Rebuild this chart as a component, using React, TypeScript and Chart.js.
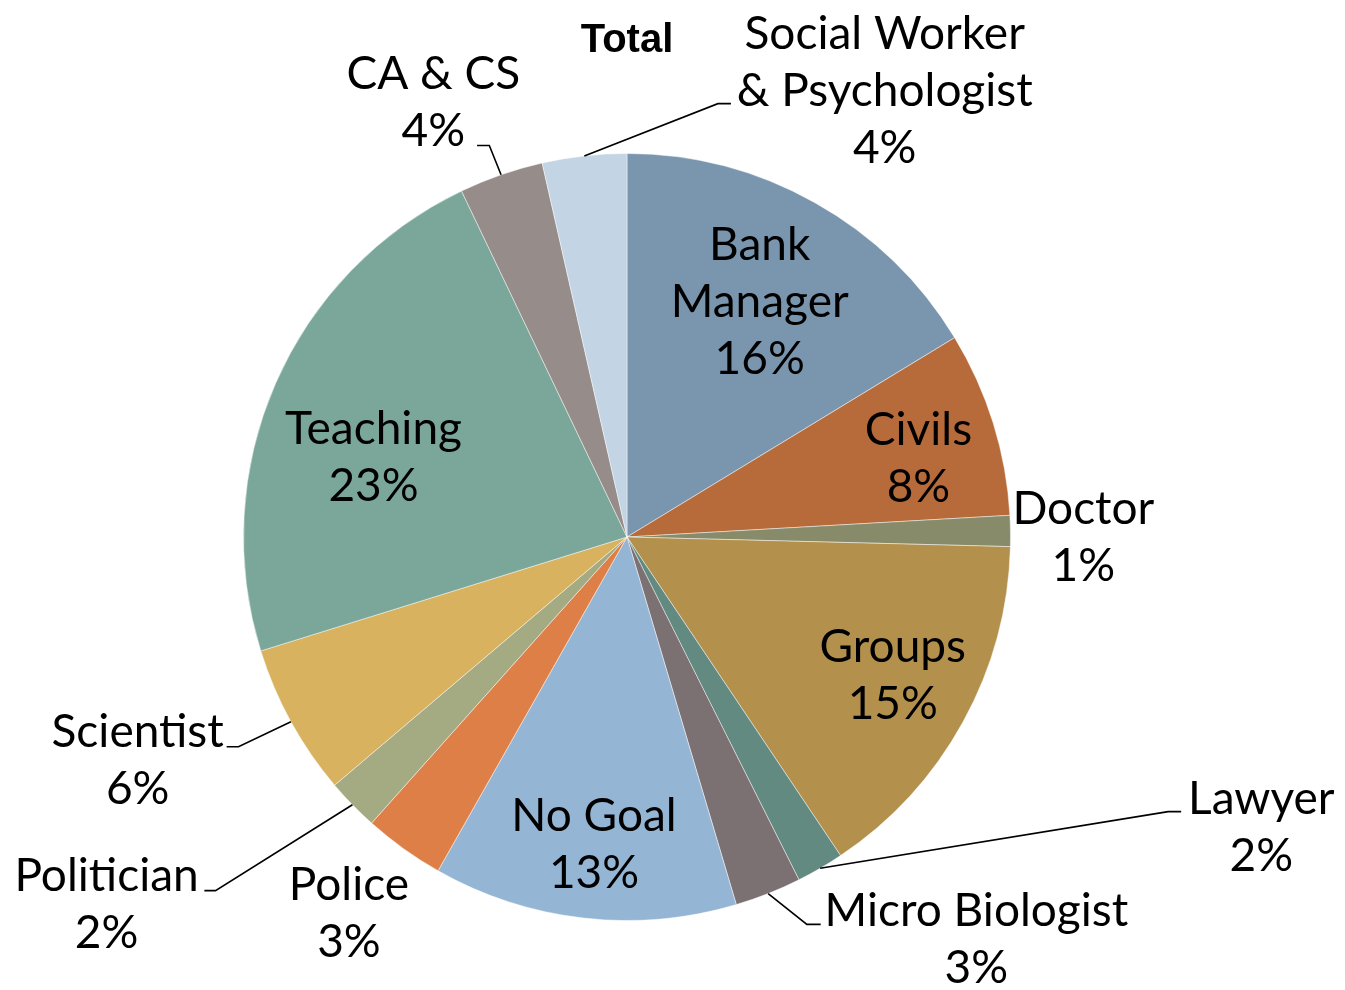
import { useEffect, useRef } from "react";
import { Chart, registerables } from "chart.js";

Chart.register(...registerables);

// ---- data ----
const title = "Total";
const categories = [
  "Bank Manager",
  "Civils",
  "Doctor",
  "Groups",
  "Lawyer",
  "Micro Biologist",
  "No Goal",
  "Police",
  "Politician",
  "Scientist",
  "Teaching",
  "CA & CS",
  "Social Worker & Psychologist",
];
const labelLines = [
  ["Bank", "Manager"],
  ["Civils"],
  ["Doctor"],
  ["Groups"],
  ["Lawyer"],
  ["Micro Biologist"],
  ["No Goal"],
  ["Police"],
  ["Politician"],
  ["Scientist"],
  ["Teaching"],
  ["CA & CS"],
  ["Social Worker", "& Psychologist"],
];
const shares = [16.3, 7.8, 1.3, 15.2, 2.0, 2.8, 12.8, 3.4, 2.2, 6.4, 22.7, 3.55, 3.55];

// ---- styles / layout ----
const colors = [
  "#7A96AE",
  "#B76B3B",
  "#878B6A",
  "#B3904B",
  "#628A80",
  "#7C7172",
  "#95B5D4",
  "#DE7F47",
  "#A4AA82",
  "#D8B25E",
  "#7BA79A",
  "#968C8A",
  "#C3D4E5",
];
// label block centres, in units of the pie radius, relative to the pie centre
const labelPos = [
  { x: 0.346, y: -0.617 },
  { x: 0.76, y: -0.208 },
  { x: 1.19, y: -0.003 },
  { x: 0.693, y: 0.358 },
  { x: 1.654, y: 0.753 },
  { x: 0.911, y: 1.046 },
  { x: -0.086, y: 0.798 },
  { x: -0.725, y: 0.979 },
  { x: -1.357, y: 0.955 },
  { x: -1.276, y: 0.579 },
  { x: -0.661, y: -0.212 },
  { x: -0.505, y: -1.138 },
  { x: 0.672, y: -1.168 },
];
// leader lines: elbow (ex, ey) and horizontal end tx, in radius units
const leaders: Record<number, { ex: number; ey: number; tx: number }> = {
  4: { ex: 1.411, ey: 0.716, tx: 1.445 },
  5: { ex: 0.469, ey: 1.01, tx: 0.505 },
  8: { ex: -1.073, ey: 0.922, tx: -1.102 },
  9: { ex: -1.013, ey: 0.547, tx: -1.044 },
  11: { ex: -0.359, ey: -1.021, tx: -0.391 },
  12: { ex: 0.237, ey: -1.13, tx: 0.271 },
};
const FONT = "46px Lato";
const LINE_H = 57;

const labelsPlugin = {
  id: "pieLabels",
  afterDatasetsDraw(chart: any) {
    const ctx = chart.ctx as CanvasRenderingContext2D;
    const meta = chart.getDatasetMeta(0);
    const data = chart.data.datasets[0].data as number[];
    const total = data.reduce((a, b) => a + b, 0);
    ctx.save();
    let cx = 0;
    meta.data.forEach((arc: any, i: number) => {
      const p = arc.getProps(["x", "y", "startAngle", "endAngle", "outerRadius"], true);
      const r = p.outerRadius;
      cx = p.x;
      const mid = (p.startAngle + p.endAngle) / 2;
      const ld = leaders[i];
      if (ld) {
        ctx.strokeStyle = "#000";
        ctx.lineWidth = 1.6;
        ctx.beginPath();
        ctx.moveTo(p.x + r * Math.cos(mid), p.y + r * Math.sin(mid));
        ctx.lineTo(p.x + ld.ex * r, p.y + ld.ey * r);
        ctx.lineTo(p.x + ld.tx * r, p.y + ld.ey * r);
        ctx.stroke();
      }
      const lines = [...labelLines[i], Math.round((data[i] / total) * 100) + "%"];
      ctx.font = FONT;
      ctx.fillStyle = "#000";
      ctx.textAlign = "center";
      ctx.textBaseline = "alphabetic";
      const capH = ctx.measureText("H").actualBoundingBoxAscent;
      const bx = p.x + labelPos[i].x * r;
      const by = p.y + labelPos[i].y * r;
      lines.forEach((t, k) => {
        ctx.fillText(t, bx, by + (k - (lines.length - 1) / 2) * LINE_H + capH / 2);
      });
    });
    ctx.font = "bold 40px 'Liberation Sans'";
    ctx.textAlign = "center";
    ctx.textBaseline = "alphabetic";
    ctx.fillStyle = "#000";
    ctx.fillText(title, cx, 52);
    ctx.restore();
  },
};

export default function App() {
  const ref = useRef<HTMLCanvasElement | null>(null);
  useEffect(() => {
    if (!ref.current) return;
    const chart = new Chart(ref.current, {
      type: "pie",
      data: {
        labels: categories,
        datasets: [
          {
            data: shares,
            backgroundColor: colors,
            borderColor: "rgba(255,255,255,0.45)",
            borderWidth: 1,
          },
        ],
      },
      options: {
        responsive: false,
        animation: false,
        events: [],
        layout: { padding: { left: 243, right: 334, top: 153, bottom: 69 } },
        plugins: {
          legend: { display: false },
          title: { display: false },
          tooltip: { enabled: false },
        },
      },
      plugins: [labelsPlugin],
    });
    return () => chart.destroy();
  }, []);
  return (
    <div style={{ position: "absolute", left: 0, top: 0, width: 1345, height: 990, background: "#fff" }}>
      <canvas ref={ref} width={1345} height={990} />
    </div>
  );
}
